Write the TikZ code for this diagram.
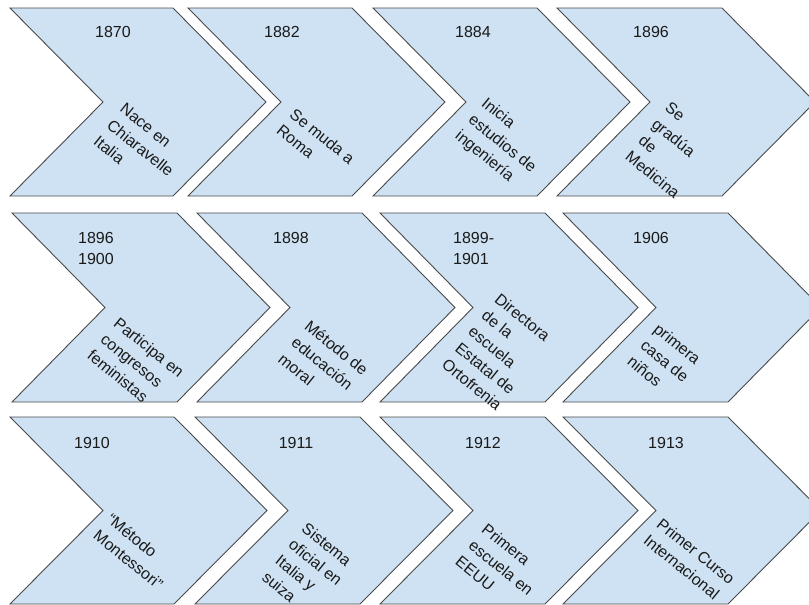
\documentclass[tikz,border=0pt]{standalone}
\usepackage{fontspec}
\setmainfont{Liberation Sans}
\definecolor{chevfill}{HTML}{CFE2F3}
\definecolor{chevline}{HTML}{4A4A4A}
\definecolor{txt}{HTML}{1A1A1A}
\newcommand\chevshape[4]{\draw[chev] (#1,#2) -- ({#1+#4},#2) -- ({#1+#4+93},{(#2+#3)/2}) -- ({#1+#4},#3) -- (#1,#3) -- ({#1+93},{(#2+#3)/2}) -- cycle;}
\begin{document}
\begin{tikzpicture}[x=1pt,y=-1pt,
  chev/.style={fill=chevfill, draw=chevline, line width=0.9pt, line join=miter},
  year/.style={font=\fontsize{16}{21}\selectfont, text=txt, inner sep=0pt, align=left},
  desc/.style={font=\fontsize{16}{21}\selectfont, text=txt, inner sep=0pt, align=left, rotate=-39, anchor=north west}]
\clip (0,0) rectangle (809,605);
\fill[white] (0,0) rectangle (809,605);
% row 1
\chevshape{10}{8}{196}{163}
\chevshape{188}{8}{196}{164}
\chevshape{373}{8}{196}{164}
\chevshape{557}{8}{196}{165}
% row 2
\chevshape{12}{213}{402}{165}
\chevshape{197}{213}{402}{165}
\chevshape{380}{213}{402}{165}
\chevshape{563}{213}{402}{165}
% row 3
\chevshape{10}{417}{604}{164}
\chevshape{195}{417}{604}{165}
\chevshape{380}{417}{604}{165}
\chevshape{563}{417}{604}{165}
% years
\node[year] (y1) at (113,32) {1870};
\node[year] (y2) at (282,32) {1882};
\node[year] (y3) at (473,32) {1884};
\node[year] (y4) at (651,32) {1896};
\node[year, anchor=north west] (y5) at (78,232) {1896\\1900};
\node[year] (y6) at (291,238) {1898};
\node[year, anchor=north west] (y7) at (453,232) {1899-\\1901};
\node[year] (y8) at (651,238) {1906};
\node[year] (y9) at (92,443) {1910};
\node[year] (y10) at (296,443) {1911};
\node[year] (y11) at (483,443) {1912};
\node[year] (y12) at (666,443) {1913};
% descriptions
\node[desc] (d1) at (126,102) {Nace en\\Chiaravelle\\Italia};
\node[desc] (d2) at (296,107) {Se muda a\\Roma};
\node[desc] (d3) at (488,96) {Inicia\\estudios de\\ingeniería};
\node[desc] (d4) at (671,101) {Se\\gradúa\\de\\Medicina};
\node[desc] (d5) at (120,316) {Participa en\\congresos\\feministas};
\node[desc] (d6) at (311,319) {Método de\\educación\\moral};
\node[desc] (d7) at (501,292) {Directora\\de la\\escuela\\Estatal de\\Ortofrenia};
\node[desc] (d8) at (660,322) {primera\\casa de\\niños};
\node[desc] (d9) at (113,512) {“Método\\Montessori”};
\node[desc] (d10) at (308,521) {Sistema\\oficial en\\Italia y\\suiza};
\node[desc] (d11) at (488,522) {Primera\\escuela en\\EEUU};
\node[desc] (d12) at (663,517) {Primer Curso\\Internacional};
\end{tikzpicture}
\end{document}
